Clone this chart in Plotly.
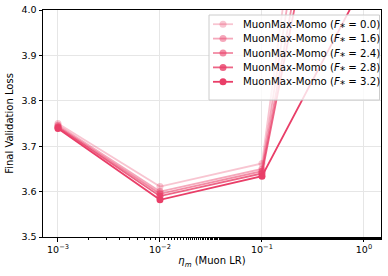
import plotly.graph_objects as go

lrs = [1e-3, 1e-2, 1e-1, 1e0]
f_stars = ["0.0", "1.6", "2.4", "2.8", "3.2"]
loss_f00 = [3.750, 3.611, 3.662, 5.34]
loss_f16 = [3.746, 3.600, 3.650, 5.10]
loss_f24 = [3.743, 3.595, 3.645, 4.89]
loss_f28 = [3.741, 3.590, 3.640, 4.78]
loss_f32 = [3.739, 3.582, 3.634, 4.06]
series = [loss_f00, loss_f16, loss_f24, loss_f28, loss_f32]
alphas = [0.3, 0.45, 0.6, 0.8, 1.0]

x_tickvals = [1e-3, 1e-2, 1e-1, 1e0]
x_ticktext = ["10<sup>−3</sup>", "10<sup>−2</sup>", "10<sup>−1</sup>", "10<sup>0</sup>"]
y_tickvals = [3.5, 3.6, 3.7, 3.8, 3.9, 4.0]
y_ticktext = ["3.5", "3.6", "3.7", "3.8", "3.9", "4.0"]

W, H = 388, 276
ML, MR, MT, MB = 43, 7, 10, 39
PW, PH = W - ML - MR, H - MT - MB

def px(xp):
    return (xp - ML) / PW

def py(yp):
    return (H - MB - yp) / PH

base = (233, 62, 104)
fig = go.Figure()
colors = []
for fs, vals, a in zip(f_stars, series, alphas):
    col = f"rgba({base[0]},{base[1]},{base[2]},{a})"
    colors.append(col)
    fig.add_trace(go.Scatter(
        x=lrs, y=vals, mode="lines+markers",
        name=f"MuonMax-Momo (<i>F</i>⁎ = {fs})",
        line=dict(color=col, width=1.8),
        marker=dict(color=col, size=7),
        cliponaxis=True, showlegend=False,
    ))

# custom legend (compact like matplotlib)
shapes = [dict(type="rect", xref="paper", yref="paper", layer="above",
               x0=px(209), x1=px(379.5), y0=py(100), y1=py(15),
               fillcolor="rgba(255,255,255,0.8)", line=dict(color="#cccccc", width=1))]
annotations = []
row_y = [24.2, 38.6, 53.0, 67.4, 81.8]
for fs, col, ry in zip(f_stars, colors, row_y):
    shapes.append(dict(type="line", xref="paper", yref="paper", layer="above",
                       x0=px(213), x1=px(233), y0=py(ry), y1=py(ry),
                       line=dict(color=col, width=1.8)))
    shapes.append(dict(type="circle", xref="paper", yref="paper", layer="above",
                       x0=px(219.5), x1=px(226.5), y0=py(ry + 3.5), y1=py(ry - 3.5),
                       fillcolor=col, line=dict(width=0)))
    annotations.append(dict(xref="paper", yref="paper", x=px(240.5), y=py(ry),
                            xanchor="left", yanchor="middle", showarrow=False,
                            text=f"MuonMax-Momo (<i>F</i>⁎ = {fs})",
                            font=dict(size=10.2, color="black")))

font = "DejaVu Sans"
fig.update_layout(
    width=W, height=H,
    margin=dict(l=ML, r=MR, t=MT, b=MB, autoexpand=False),
    paper_bgcolor="white", plot_bgcolor="white",
    font=dict(family=font, size=9.5, color="black"),
    showlegend=False,
    shapes=shapes, annotations=annotations,
    xaxis=dict(
        type="log", range=[-3.147, 0.167], automargin=False,
        tickvals=x_tickvals, ticktext=x_ticktext,
        showline=True, mirror=True, linecolor="black", linewidth=1,
        ticks="outside", ticklen=3.5, tickcolor="black",
        showgrid=True, gridcolor="#e6e6e6", gridwidth=0.8,
        minor=dict(ticks="outside", ticklen=2, tickcolor="black", showgrid=False),
        title=dict(text="<i>η<sub>m</sub></i> (Muon LR)", standoff=3, font=dict(size=10)),
        zeroline=False,
    ),
    yaxis=dict(
        range=[3.5, 4.0], automargin=False,
        tickvals=y_tickvals, ticktext=y_ticktext,
        showline=True, mirror=True, linecolor="black", linewidth=1,
        ticks="outside", ticklen=3.5, tickcolor="black",
        showgrid=True, gridcolor="#e6e6e6", gridwidth=0.8,
        title=dict(text="Final Validation Loss", standoff=5, font=dict(size=10)),
        zeroline=False,
    ),
)
fig.write_html("out.html", config={"displayModeBar": False},
               post_script="document.body.style.margin='0';document.body.style.overflow='hidden';")
